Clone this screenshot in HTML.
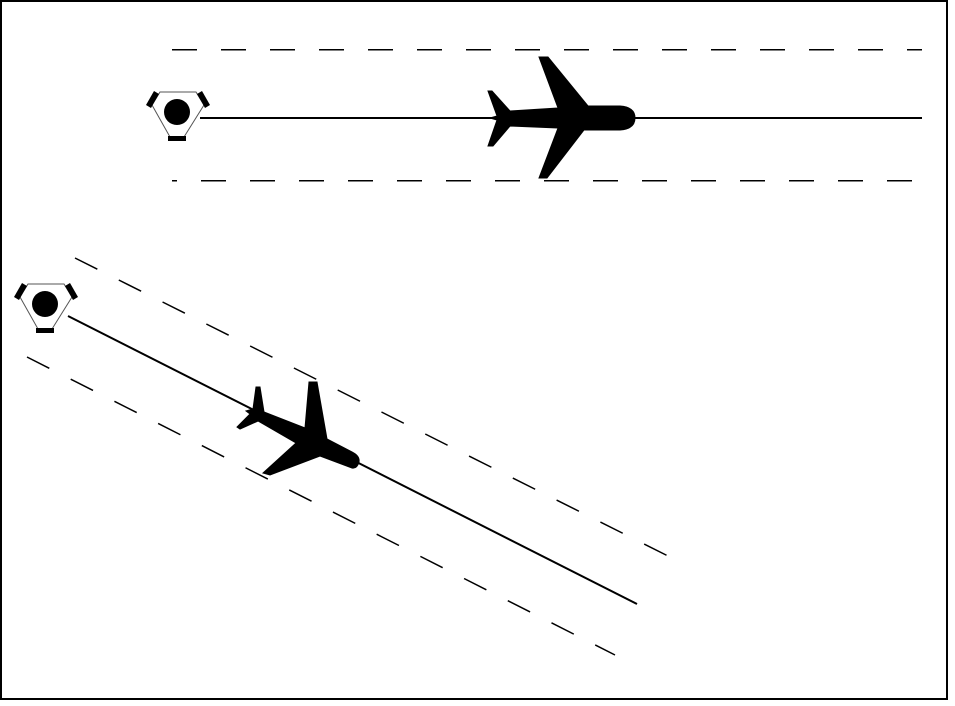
<!DOCTYPE html>
<html><head><style>html,body{margin:0;padding:0;background:#fff}svg{display:block}</style></head>
<body>
<svg width="955" height="706" viewBox="0 0 955 706" xmlns="http://www.w3.org/2000/svg">
<rect x="1" y="1" width="946" height="698" fill="#fff" stroke="#000" stroke-width="2"/>
<g stroke="#000" stroke-width="1.5" stroke-dasharray="25 24" fill="none">
<line x1="172" y1="49.5" x2="922" y2="49.5" shape-rendering="crispEdges"/>
<line x1="172" y1="180.5" x2="922" y2="180.5" stroke-dashoffset="20" shape-rendering="crispEdges"/>
<line x1="75" y1="258" x2="668" y2="556"/>
<line x1="27" y1="357" x2="615" y2="655"/>
</g>
<line x1="200" y1="118" x2="922" y2="118" stroke="#000" stroke-width="2"/>
<line x1="68" y1="316" x2="637" y2="604" stroke="#000" stroke-width="2"/>
<g>
<polygon points="152,105 160,92 196,92 204,105 184,137 170,137" fill="#fff" stroke="#555" stroke-width="1"/>
<circle cx="177" cy="112" r="13" fill="#000"/>
<polygon points="146,105 154,91 159,94 151,108" fill="#000"/>
<polygon points="197,94 202,91 210,105 205,108" fill="#000"/>
<rect x="168" y="136" width="18" height="5" fill="#000"/>
</g>
<g transform="translate(-132,192)">
<polygon points="152,105 160,92 196,92 204,105 184,137 170,137" fill="#fff" stroke="#555" stroke-width="1"/>
<circle cx="177" cy="112" r="13" fill="#000"/>
<polygon points="146,105 154,91 159,94 151,108" fill="#000"/>
<polygon points="197,94 202,91 210,105 205,108" fill="#000"/>
<rect x="168" y="136" width="18" height="5" fill="#000"/>
</g>
<path d="M488,91 L492,91 L510,111 L558,108 L539,57 L548,57 L588,106 L620,106 Q635,107 635,118 Q635,129 620,130 L584,130 L547,178 L539,178 L558,128 L510,126 L493,146 L488,146 L497,120 L490,118 L497,116 Z" fill="#000" stroke="#000" stroke-width="1"/>
<path d="M256,387 L260,387 L264,412 L305,428 L309,382 L317,382 L327,439 L352,452 Q360,456 359,462 Q357,469 352,468 L320,456 L270,475 L263,473 L296,443 L258,421 L240,429 L237,427 L250,414 L246,411 L253,409 Z" fill="#000" stroke="#000" stroke-width="1"/>
</svg>
</body></html>
